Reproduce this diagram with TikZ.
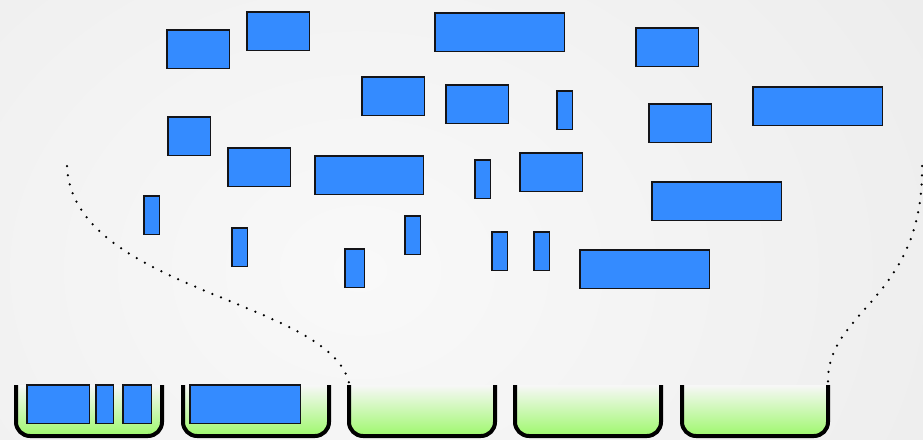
\documentclass[tikz,border=0pt]{standalone}
\usetikzlibrary{positioning}

\definecolor{boxblue}{RGB}{52,139,255}
\definecolor{boxline}{RGB}{20,20,24}
\definecolor{bingreen}{RGB}{158,248,108}
\definecolor{bgin}{RGB}{249,249,249}
\definecolor{bgout}{RGB}{226,226,226}

\pgfdeclareradialshading{haze}{\pgfpoint{0bp}{0bp}}{color(0bp)=(bgin); color(50bp)=(bgout)}

\begin{document}
\begin{tikzpicture}[x=1pt, y=-1pt,
   item/.style={draw=boxline, fill=boxblue, line width=1.5pt, inner sep=0pt, outer sep=0pt,
      anchor=north west, minimum height=38.5pt, minimum width=#1},
   bin/.style={inner sep=0pt, outer sep=0pt, anchor=north west, minimum width=146pt, minimum height=51pt},
   binwall/.style={draw=black, line width=4pt, rounded corners=14pt,
      top color=white!97!black, middle color=bingreen!45!white, bottom color=bingreen},
   trail/.style={draw=black, line width=2.5pt, line cap=round, dash pattern=on 0pt off 9.3pt}]
   \useasboundingbox (0,0) rectangle (923,439);
   \begin{scope}
      \clip (0,0) rectangle (923,439);
      \shade[shading=haze] (-260,-230) rectangle (980,770);
   \end{scope}

   % loose items
   \node[item=62.5pt]  (a1)  at (167,30)  {};
   \node[item=62.5pt]  (a2)  at (247,12)  {};
   \node[item=129.5pt] (a3)  at (435,13)  {};
   \node[item=62.5pt]  (a4)  at (636,28)  {};
   \node[item=62.5pt]  (a5)  at (362,77)  {};
   \node[item=62.5pt]  (a6)  at (446,85)  {};
   \node[item=15.5pt]  (a7)  at (557,91)  {};
   \node[item=62.5pt]  (a8)  at (649,104) {};
   \node[item=129.5pt] (a9)  at (753,87)  {};
   \node[item=42.5pt]  (a10) at (168,117) {};
   \node[item=62.5pt]  (a11) at (228,148) {};
   \node[item=108.5pt] (a12) at (315,156) {};
   \node[item=15.5pt]  (a13) at (475,160) {};
   \node[item=62.5pt]  (a14) at (520,153) {};
   \node[item=129.5pt] (a15) at (652,182) {};
   \node[item=15.5pt]  (a16) at (144,196) {};
   \node[item=15.5pt]  (a17) at (232,228) {};
   \node[item=15.5pt]  (a18) at (405,216) {};
   \node[item=19.5pt]  (a19) at (345,249) {};
   \node[item=15.5pt]  (a20) at (492,232) {};
   \node[item=15.5pt]  (a21) at (534,232) {};
   \node[item=129.5pt] (a22) at (580,250) {};

   % bins
   \foreach \n/\x in {1/16, 2/183, 3/349, 4/515, 5/682} {
      \node[bin] (bin\n) at (\x,385) {};
      \draw[binwall] (bin\n.north west) -- (bin\n.south west) -- (bin\n.south east) -- (bin\n.north east);
   }

   % packed items
   \node[item=62.5pt]  (p1) at (27,385)  {};
   \node[item=17.5pt]  (p2) at (96,385)  {};
   \node[item=28.5pt]  (p3) at (123,385) {};
   \node[item=110.5pt] (p4) at (190,385) {};

   % free space bounds
   \coordinate (left)  at (67,166);
   \coordinate (right) at (922,166);
   \draw[trail] (left) .. controls (72,290) and (330,300) .. ([yshift=2pt]bin3.north west);
   \draw[trail] (right) .. controls (924,300) and (826,310) .. ([yshift=2pt]bin5.north east);
\end{tikzpicture}
\end{document}
